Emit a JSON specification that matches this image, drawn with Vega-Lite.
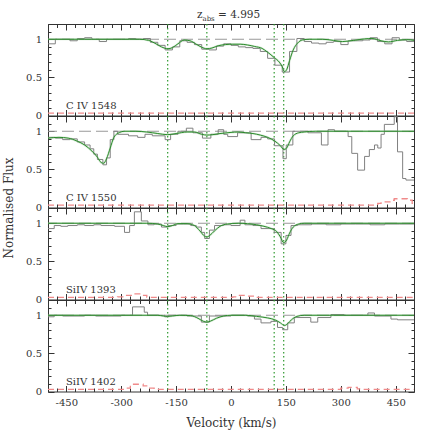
{
"$schema": "https://vega.github.io/schema/vega-lite/v6.json",
"padding": {"left": 2, "top": 9, "right": 5, "bottom": 5},
"spacing": 0,
"bounds": "flush",
"datasets": {
"obs": [
{"p":1,"v":-500,"f":0.94},{"p":1,"v":-480,"f":1.0},{"p":1,"v":-460,"f":1.0},{"p":1,"v":-440,"f":0.98},{"p":1,"v":-420,"f":1.01},{"p":1,"v":-400,"f":1.02},{"p":1,"v":-380,"f":1.0},{"p":1,"v":-360,"f":0.97},{"p":1,"v":-340,"f":1.0},{"p":1,"v":-320,"f":1.0},{"p":1,"v":-300,"f":1.0},{"p":1,"v":-280,"f":1.01},{"p":1,"v":-260,"f":1.0},{"p":1,"v":-240,"f":1.01},{"p":1,"v":-220,"f":0.96},{"p":1,"v":-200,"f":0.92},{"p":1,"v":-180,"f":0.86},{"p":1,"v":-160,"f":0.9},{"p":1,"v":-140,"f":0.98},{"p":1,"v":-120,"f":0.96},{"p":1,"v":-100,"f":0.93},{"p":1,"v":-80,"f":0.87},{"p":1,"v":-60,"f":0.86},{"p":1,"v":-40,"f":0.91},{"p":1,"v":-20,"f":0.94},{"p":1,"v":0,"f":0.92},{"p":1,"v":20,"f":0.9},{"p":1,"v":40,"f":0.89},{"p":1,"v":60,"f":0.88},{"p":1,"v":80,"f":0.84},{"p":1,"v":100,"f":0.75},{"p":1,"v":120,"f":0.66},{"p":1,"v":140,"f":0.57},{"p":1,"v":160,"f":0.84},{"p":1,"v":180,"f":1.01},{"p":1,"v":200,"f":0.97},{"p":1,"v":220,"f":0.95},{"p":1,"v":240,"f":0.94},{"p":1,"v":260,"f":0.96},{"p":1,"v":280,"f":0.97},{"p":1,"v":300,"f":0.93},{"p":1,"v":320,"f":0.98},{"p":1,"v":340,"f":0.98},{"p":1,"v":360,"f":0.99},{"p":1,"v":380,"f":1.02},{"p":1,"v":400,"f":0.97},{"p":1,"v":420,"f":0.94},{"p":1,"v":440,"f":1.02},{"p":1,"v":460,"f":0.99},{"p":1,"v":480,"f":0.97},{"p":1,"v":500,"f":0.97},
{"p":2,"v":-500,"f":0.92},{"p":2,"v":-480,"f":0.91},{"p":2,"v":-460,"f":0.89},{"p":2,"v":-440,"f":0.9},{"p":2,"v":-420,"f":0.86},{"p":2,"v":-400,"f":0.82},{"p":2,"v":-385,"f":0.77},{"p":2,"v":-375,"f":0.7},{"p":2,"v":-365,"f":0.63},{"p":2,"v":-350,"f":0.56},{"p":2,"v":-340,"f":0.65},{"p":2,"v":-330,"f":0.89},{"p":2,"v":-320,"f":1.0},{"p":2,"v":-310,"f":0.96},{"p":2,"v":-280,"f":0.94},{"p":2,"v":-255,"f":0.92},{"p":2,"v":-235,"f":0.96},{"p":2,"v":-215,"f":0.94},{"p":2,"v":-180,"f":0.89},{"p":2,"v":-165,"f":0.96},{"p":2,"v":-145,"f":1.0},{"p":2,"v":-122,"f":1.04},{"p":2,"v":-104,"f":0.98},{"p":2,"v":-78,"f":0.91},{"p":2,"v":-55,"f":0.96},{"p":2,"v":-35,"f":1.02},{"p":2,"v":-20,"f":0.96},{"p":2,"v":-9,"f":0.93},{"p":2,"v":18,"f":0.98},{"p":2,"v":55,"f":0.89},{"p":2,"v":82,"f":0.92},{"p":2,"v":100,"f":0.9},{"p":2,"v":119,"f":0.81},{"p":2,"v":142,"f":0.64},{"p":2,"v":151,"f":0.82},{"p":2,"v":169,"f":1.0},{"p":2,"v":210,"f":0.98},{"p":2,"v":247,"f":0.82},{"p":2,"v":265,"f":1.02},{"p":2,"v":283,"f":1.0},{"p":2,"v":320,"f":0.93},{"p":2,"v":330,"f":0.71},{"p":2,"v":346,"f":0.49},{"p":2,"v":365,"f":0.67},{"p":2,"v":378,"f":0.76},{"p":2,"v":392,"f":0.82},{"p":2,"v":401,"f":0.78},{"p":2,"v":410,"f":0.96},{"p":2,"v":419,"f":1.09},{"p":2,"v":446,"f":1.19},{"p":2,"v":455,"f":0.73},{"p":2,"v":469,"f":0.38},{"p":2,"v":478,"f":0.36},{"p":2,"v":500,"f":0.36},
{"p":3,"v":-500,"f":0.93},{"p":3,"v":-483,"f":0.97},{"p":3,"v":-465,"f":0.96},{"p":3,"v":-446,"f":0.97},{"p":3,"v":-420,"f":0.98},{"p":3,"v":-400,"f":0.97},{"p":3,"v":-375,"f":0.98},{"p":3,"v":-355,"f":0.97},{"p":3,"v":-318,"f":0.96},{"p":3,"v":-291,"f":0.88},{"p":3,"v":-277,"f":0.97},{"p":3,"v":-264,"f":1.15},{"p":3,"v":-245,"f":1.03},{"p":3,"v":-227,"f":0.98},{"p":3,"v":-210,"f":0.99},{"p":3,"v":-190,"f":0.95},{"p":3,"v":-172,"f":0.97},{"p":3,"v":-150,"f":0.99},{"p":3,"v":-130,"f":0.99},{"p":3,"v":-110,"f":0.97},{"p":3,"v":-95,"f":0.95},{"p":3,"v":-81,"f":0.88},{"p":3,"v":-72,"f":0.8},{"p":3,"v":-59,"f":0.91},{"p":3,"v":-45,"f":0.97},{"p":3,"v":-20,"f":0.98},{"p":3,"v":0,"f":0.97},{"p":3,"v":25,"f":1.04},{"p":3,"v":38,"f":0.98},{"p":3,"v":60,"f":0.97},{"p":3,"v":82,"f":0.93},{"p":3,"v":118,"f":0.88},{"p":3,"v":137,"f":0.73},{"p":3,"v":150,"f":0.84},{"p":3,"v":164,"f":0.97},{"p":3,"v":182,"f":0.98},{"p":3,"v":220,"f":0.99},{"p":3,"v":260,"f":0.98},{"p":3,"v":300,"f":0.99},{"p":3,"v":340,"f":0.99},{"p":3,"v":380,"f":0.98},{"p":3,"v":420,"f":0.99},{"p":3,"v":460,"f":0.99},{"p":3,"v":500,"f":0.99},
{"p":4,"v":-500,"f":0.98},{"p":4,"v":-483,"f":1.0},{"p":4,"v":-460,"f":0.99},{"p":4,"v":-440,"f":0.99},{"p":4,"v":-400,"f":1.0},{"p":4,"v":-370,"f":0.99},{"p":4,"v":-350,"f":0.99},{"p":4,"v":-300,"f":1.0},{"p":4,"v":-269,"f":1.11},{"p":4,"v":-237,"f":1.04},{"p":4,"v":-228,"f":1.0},{"p":4,"v":-181,"f":0.98},{"p":4,"v":-172,"f":1.0},{"p":4,"v":-120,"f":0.99},{"p":4,"v":-81,"f":0.91},{"p":4,"v":-59,"f":0.99},{"p":4,"v":0,"f":1.0},{"p":4,"v":45,"f":0.99},{"p":4,"v":64,"f":0.95},{"p":4,"v":82,"f":0.9},{"p":4,"v":109,"f":0.92},{"p":4,"v":127,"f":0.84},{"p":4,"v":141,"f":0.81},{"p":4,"v":155,"f":0.9},{"p":4,"v":173,"f":0.97},{"p":4,"v":218,"f":0.91},{"p":4,"v":237,"f":0.97},{"p":4,"v":273,"f":1.01},{"p":4,"v":309,"f":1.0},{"p":4,"v":374,"f":1.03},{"p":4,"v":392,"f":0.99},{"p":4,"v":437,"f":0.95},{"p":4,"v":455,"f":0.94},{"p":4,"v":500,"f":0.94}
],
"fit": [
{"p":1,"v":-500,"f":1.0},{"p":1,"v":-400,"f":1.0},{"p":1,"v":-300,"f":1.0},{"p":1,"v":-250,"f":1.0},{"p":1,"v":-225,"f":0.985},{"p":1,"v":-205,"f":0.94},{"p":1,"v":-190,"f":0.9},{"p":1,"v":-173,"f":0.875},{"p":1,"v":-160,"f":0.89},{"p":1,"v":-145,"f":0.94},{"p":1,"v":-128,"f":0.99},{"p":1,"v":-112,"f":0.98},{"p":1,"v":-95,"f":0.935},{"p":1,"v":-80,"f":0.895},{"p":1,"v":-66,"f":0.875},{"p":1,"v":-52,"f":0.885},{"p":1,"v":-35,"f":0.915},{"p":1,"v":-15,"f":0.93},{"p":1,"v":5,"f":0.935},{"p":1,"v":25,"f":0.935},{"p":1,"v":45,"f":0.925},{"p":1,"v":65,"f":0.905},{"p":1,"v":85,"f":0.88},{"p":1,"v":100,"f":0.83},{"p":1,"v":118,"f":0.76},{"p":1,"v":132,"f":0.7},{"p":1,"v":140,"f":0.64},{"p":1,"v":146,"f":0.575},{"p":1,"v":152,"f":0.6},{"p":1,"v":160,"f":0.72},{"p":1,"v":170,"f":0.86},{"p":1,"v":182,"f":0.95},{"p":1,"v":195,"f":0.99},{"p":1,"v":215,"f":1.0},{"p":1,"v":250,"f":1.0},{"p":1,"v":280,"f":0.985},{"p":1,"v":305,"f":0.97},{"p":1,"v":335,"f":0.985},{"p":1,"v":365,"f":1.005},{"p":1,"v":385,"f":1.01},{"p":1,"v":410,"f":0.98},{"p":1,"v":430,"f":0.965},{"p":1,"v":455,"f":0.985},{"p":1,"v":480,"f":0.995},{"p":1,"v":500,"f":0.985},
{"p":2,"v":-500,"f":0.91},{"p":2,"v":-470,"f":0.92},{"p":2,"v":-445,"f":0.91},{"p":2,"v":-420,"f":0.87},{"p":2,"v":-400,"f":0.82},{"p":2,"v":-380,"f":0.74},{"p":2,"v":-365,"f":0.66},{"p":2,"v":-355,"f":0.59},{"p":2,"v":-348,"f":0.58},{"p":2,"v":-340,"f":0.64},{"p":2,"v":-330,"f":0.78},{"p":2,"v":-320,"f":0.92},{"p":2,"v":-310,"f":0.97},{"p":2,"v":-290,"f":1.0},{"p":2,"v":-260,"f":1.0},{"p":2,"v":-230,"f":0.99},{"p":2,"v":-200,"f":0.97},{"p":2,"v":-173,"f":0.955},{"p":2,"v":-150,"f":0.97},{"p":2,"v":-120,"f":0.99},{"p":2,"v":-100,"f":0.99},{"p":2,"v":-80,"f":0.96},{"p":2,"v":-66,"f":0.95},{"p":2,"v":-50,"f":0.955},{"p":2,"v":-30,"f":0.97},{"p":2,"v":0,"f":0.985},{"p":2,"v":20,"f":0.99},{"p":2,"v":40,"f":0.98},{"p":2,"v":60,"f":0.97},{"p":2,"v":80,"f":0.95},{"p":2,"v":100,"f":0.92},{"p":2,"v":120,"f":0.87},{"p":2,"v":135,"f":0.81},{"p":2,"v":145,"f":0.76},{"p":2,"v":152,"f":0.78},{"p":2,"v":160,"f":0.86},{"p":2,"v":170,"f":0.94},{"p":2,"v":185,"f":0.98},{"p":2,"v":200,"f":0.99},{"p":2,"v":230,"f":1.0},{"p":2,"v":350,"f":1.0},{"p":2,"v":500,"f":1.0},
{"p":3,"v":-500,"f":1.0},{"p":3,"v":-230,"f":1.0},{"p":3,"v":-200,"f":0.99},{"p":3,"v":-185,"f":0.97},{"p":3,"v":-173,"f":0.955},{"p":3,"v":-160,"f":0.97},{"p":3,"v":-145,"f":0.995},{"p":3,"v":-120,"f":0.995},{"p":3,"v":-100,"f":0.97},{"p":3,"v":-85,"f":0.9},{"p":3,"v":-72,"f":0.83},{"p":3,"v":-66,"f":0.82},{"p":3,"v":-58,"f":0.84},{"p":3,"v":-45,"f":0.9},{"p":3,"v":-30,"f":0.96},{"p":3,"v":-10,"f":0.99},{"p":3,"v":20,"f":1.0},{"p":3,"v":45,"f":0.995},{"p":3,"v":70,"f":0.98},{"p":3,"v":90,"f":0.96},{"p":3,"v":110,"f":0.93},{"p":3,"v":125,"f":0.89},{"p":3,"v":135,"f":0.82},{"p":3,"v":144,"f":0.745},{"p":3,"v":152,"f":0.78},{"p":3,"v":160,"f":0.87},{"p":3,"v":170,"f":0.95},{"p":3,"v":185,"f":0.99},{"p":3,"v":200,"f":1.0},{"p":3,"v":500,"f":1.0},
{"p":4,"v":-500,"f":1.0},{"p":4,"v":-300,"f":1.0},{"p":4,"v":-200,"f":1.0},{"p":4,"v":-185,"f":0.99},{"p":4,"v":-173,"f":0.985},{"p":4,"v":-160,"f":0.99},{"p":4,"v":-140,"f":1.0},{"p":4,"v":-110,"f":0.995},{"p":4,"v":-90,"f":0.96},{"p":4,"v":-75,"f":0.92},{"p":4,"v":-66,"f":0.91},{"p":4,"v":-55,"f":0.925},{"p":4,"v":-40,"f":0.96},{"p":4,"v":-20,"f":0.99},{"p":4,"v":0,"f":1.0},{"p":4,"v":40,"f":1.0},{"p":4,"v":70,"f":0.985},{"p":4,"v":100,"f":0.965},{"p":4,"v":120,"f":0.94},{"p":4,"v":135,"f":0.9},{"p":4,"v":146,"f":0.865},{"p":4,"v":155,"f":0.89},{"p":4,"v":165,"f":0.94},{"p":4,"v":180,"f":0.985},{"p":4,"v":200,"f":1.0},{"p":4,"v":500,"f":1.0}
],
"err": [
{"p":1,"v":-500,"f":0.03},{"p":1,"v":500,"f":0.03},
{"p":2,"v":-500,"f":0.03},{"p":2,"v":392,"f":0.03},{"p":2,"v":401,"f":0.055},{"p":2,"v":410,"f":0.075},{"p":2,"v":437,"f":0.095},{"p":2,"v":446,"f":0.115},{"p":2,"v":482,"f":0.095},{"p":2,"v":495,"f":0.055},{"p":2,"v":500,"f":0.055},
{"p":3,"v":-500,"f":0.028},{"p":3,"v":-310,"f":0.035},{"p":3,"v":-290,"f":0.055},{"p":3,"v":-270,"f":0.075},{"p":3,"v":-245,"f":0.055},{"p":3,"v":-230,"f":0.028},{"p":3,"v":5,"f":0.035},{"p":3,"v":15,"f":0.055},{"p":3,"v":45,"f":0.045},{"p":3,"v":65,"f":0.028},{"p":3,"v":500,"f":0.028},
{"p":4,"v":-500,"f":0.028},{"p":4,"v":-290,"f":0.045},{"p":4,"v":-275,"f":0.095},{"p":4,"v":-240,"f":0.075},{"p":4,"v":-225,"f":0.045},{"p":4,"v":-210,"f":0.028},{"p":4,"v":300,"f":0.045},{"p":4,"v":320,"f":0.055},{"p":4,"v":345,"f":0.035},{"p":4,"v":360,"f":0.028},{"p":4,"v":500,"f":0.028}
],
"comp": [{"v":-173},{"v":-66},{"v":118},{"v":144}],
"lab": [{"p":1,"v":-451,"f":0.087,"t":"C IV 1548"},{"p":2,"v":-451,"f":0.087,"t":"C IV 1550"},{"p":3,"v":-451,"f":0.087,"t":"SiIV 1393"},{"p":4,"v":-451,"f":0.087,"t":"SiIV 1402"}],
"ttl": [{"v":-92.6,"f":1.275,"t":"z"},{"v":-35.5,"f":1.275,"t":"= 4.995"}],
"sub": [{"v":-78,"f":1.24,"t":"abs"}]
},
"vconcat": [
{"width":366,"height":91.5,"layer":[
{"data":{"values":[{}]},"mark":{"type":"rule","color":"#999999","strokeDash":[12,5],"strokeWidth":1},"encoding":{"y":{"datum":1,"type":"quantitative","scale":{"domain":[0,1.2]},"axis":null}}},
{"data":{"name":"comp"},"mark":{"type":"rule","color":"#2f9a2f","strokeDash":[1.5,2.5],"strokeWidth":1.2},"encoding":{"x":{"field":"v","type":"quantitative","scale":{"domain":[-500,500]},"axis":null}}},
{"data":{"name":"obs"},"transform":[{"filter":"datum.p==1"}],"mark":{"type":"line","interpolate":"step-after","color":"#808080","strokeWidth":1},"encoding":{"x":{"field":"v","type":"quantitative","scale":{"domain":[-500,500]},"axis":{"orient":"bottom","values":[-450,-300,-150,0,150,300,450],"tickSize":-6,"labels":false,"title":null}},"y":{"field":"f","type":"quantitative","scale":{"domain":[0,1.2]},"axis":{"orient":"left","values":[0,0.5,1],"tickSize":-6,"labelPadding":12.5,"labelExpr":"datum.value + ''","title":null}}}},
{"data":{"name":"fit"},"transform":[{"filter":"datum.p==1"}],"mark":{"type":"line","interpolate":"monotone","color":"#8cc68c","strokeWidth":2.2,"opacity":0.35},"encoding":{"x":{"field":"v","type":"quantitative","scale":{"domain":[-500,500]},"axis":{"orient":"top","values":[-450,-300,-150,0,150,300,450],"tickSize":-6,"labels":false,"title":null}},"y":{"field":"f","type":"quantitative","scale":{"domain":[0,1.2]},"axis":{"orient":"right","values":[0,0.5,1],"tickSize":-6,"labels":false,"title":null}}}},
{"data":{"name":"fit"},"transform":[{"filter":"datum.p==1"}],"mark":{"type":"line","interpolate":"monotone","color":"#2b8a2b","strokeWidth":1},"encoding":{"x":{"field":"v","type":"quantitative","scale":{"domain":[-500,500]},"axis":{"orient":"bottom","values":[-500,-475,-450,-425,-400,-375,-350,-325,-300,-275,-250,-225,-200,-175,-150,-125,-100,-75,-50,-25,0,25,50,75,100,125,150,175,200,225,250,275,300,325,350,375,400,425,450,475,500],"tickSize":-3.5,"labels":false,"title":null}},"y":{"field":"f","type":"quantitative","scale":{"domain":[0,1.2]},"axis":{"orient":"left","values":[0,0.1,0.2,0.3,0.4,0.5,0.6,0.7,0.8,0.9,1,1.1,1.2],"tickSize":-3,"labels":false,"title":null}}}},
{"data":{"name":"err"},"transform":[{"filter":"datum.p==1"}],"mark":{"type":"line","interpolate":"step-after","color":"#f08a8a","strokeWidth":1.3,"strokeDash":[6,4]},"encoding":{"x":{"field":"v","type":"quantitative","scale":{"domain":[-500,500]},"axis":{"orient":"top","values":[-500,-475,-450,-425,-400,-375,-350,-325,-300,-275,-250,-225,-200,-175,-150,-125,-100,-75,-50,-25,0,25,50,75,100,125,150,175,200,225,250,275,300,325,350,375,400,425,450,475,500],"tickSize":-3.5,"labels":false,"title":null}},"y":{"field":"f","type":"quantitative","scale":{"domain":[0,1.2]},"axis":{"orient":"right","values":[0,0.1,0.2,0.3,0.4,0.5,0.6,0.7,0.8,0.9,1,1.1,1.2],"tickSize":-3,"labels":false,"title":null}}}},
{"data":{"name":"lab"},"transform":[{"filter":"datum.p==1"}],"mark":{"type":"text","align":"left","baseline":"alphabetic","fontSize":10},"encoding":{"x":{"field":"v","type":"quantitative","scale":{"domain":[-500,500]},"axis":null},"y":{"field":"f","type":"quantitative","scale":{"domain":[0,1.2]},"axis":null},"text":{"field":"t"}}},
{"data":{"name":"ttl"},"mark":{"type":"text","align":"left","baseline":"alphabetic","fontSize":10.5},"encoding":{"x":{"field":"v","type":"quantitative","scale":{"domain":[-500,500]},"axis":null},"y":{"field":"f","type":"quantitative","scale":{"domain":[0,1.2]},"axis":null},"text":{"field":"t"}}},
{"data":{"name":"sub"},"mark":{"type":"text","align":"left","baseline":"alphabetic","fontSize":7},"encoding":{"x":{"field":"v","type":"quantitative","scale":{"domain":[-500,500]},"axis":null},"y":{"field":"f","type":"quantitative","scale":{"domain":[0,1.2]},"axis":null},"text":{"field":"t"}}}
],"resolve":{"axis":{"x":"independent","y":"independent"}}},
{"width":366,"height":91.5,"layer":[
{"data":{"values":[{}]},"mark":{"type":"rule","color":"#999999","strokeDash":[12,5],"strokeWidth":1},"encoding":{"y":{"datum":1,"type":"quantitative","scale":{"domain":[0,1.2]},"axis":null}}},
{"data":{"name":"comp"},"mark":{"type":"rule","color":"#2f9a2f","strokeDash":[1.5,2.5],"strokeWidth":1.2},"encoding":{"x":{"field":"v","type":"quantitative","scale":{"domain":[-500,500]},"axis":null}}},
{"data":{"name":"obs"},"transform":[{"filter":"datum.p==2"}],"mark":{"type":"line","interpolate":"step-after","color":"#808080","strokeWidth":1},"encoding":{"x":{"field":"v","type":"quantitative","scale":{"domain":[-500,500]},"axis":{"orient":"bottom","values":[-450,-300,-150,0,150,300,450],"tickSize":-6,"labels":false,"title":null}},"y":{"field":"f","type":"quantitative","scale":{"domain":[0,1.2]},"axis":{"orient":"left","values":[0,0.5,1],"tickSize":-6,"labelPadding":12.5,"labelExpr":"datum.value + ''","title":"Normalised Flux","titleFontSize":12,"titleBaseline":"alphabetic","titleAlign":"center","titleAngle":270,"titleX":-35.5,"titleY":91.5}}}},
{"data":{"name":"fit"},"transform":[{"filter":"datum.p==2"}],"mark":{"type":"line","interpolate":"monotone","color":"#8cc68c","strokeWidth":2.2,"opacity":0.35},"encoding":{"x":{"field":"v","type":"quantitative","scale":{"domain":[-500,500]},"axis":{"orient":"top","values":[-450,-300,-150,0,150,300,450],"tickSize":-6,"labels":false,"title":null}},"y":{"field":"f","type":"quantitative","scale":{"domain":[0,1.2]},"axis":{"orient":"right","values":[0,0.5,1],"tickSize":-6,"labels":false,"title":null}}}},
{"data":{"name":"fit"},"transform":[{"filter":"datum.p==2"}],"mark":{"type":"line","interpolate":"monotone","color":"#2b8a2b","strokeWidth":1},"encoding":{"x":{"field":"v","type":"quantitative","scale":{"domain":[-500,500]},"axis":{"orient":"bottom","values":[-500,-475,-450,-425,-400,-375,-350,-325,-300,-275,-250,-225,-200,-175,-150,-125,-100,-75,-50,-25,0,25,50,75,100,125,150,175,200,225,250,275,300,325,350,375,400,425,450,475,500],"tickSize":-3.5,"labels":false,"title":null}},"y":{"field":"f","type":"quantitative","scale":{"domain":[0,1.2]},"axis":{"orient":"left","values":[0,0.1,0.2,0.3,0.4,0.5,0.6,0.7,0.8,0.9,1,1.1,1.2],"tickSize":-3,"labels":false,"title":null}}}},
{"data":{"name":"err"},"transform":[{"filter":"datum.p==2"}],"mark":{"type":"line","interpolate":"step-after","color":"#f08a8a","strokeWidth":1.3,"strokeDash":[6,4]},"encoding":{"x":{"field":"v","type":"quantitative","scale":{"domain":[-500,500]},"axis":{"orient":"top","values":[-500,-475,-450,-425,-400,-375,-350,-325,-300,-275,-250,-225,-200,-175,-150,-125,-100,-75,-50,-25,0,25,50,75,100,125,150,175,200,225,250,275,300,325,350,375,400,425,450,475,500],"tickSize":-3.5,"labels":false,"title":null}},"y":{"field":"f","type":"quantitative","scale":{"domain":[0,1.2]},"axis":{"orient":"right","values":[0,0.1,0.2,0.3,0.4,0.5,0.6,0.7,0.8,0.9,1,1.1,1.2],"tickSize":-3,"labels":false,"title":null}}}},
{"data":{"name":"lab"},"transform":[{"filter":"datum.p==2"}],"mark":{"type":"text","align":"left","baseline":"alphabetic","fontSize":10},"encoding":{"x":{"field":"v","type":"quantitative","scale":{"domain":[-500,500]},"axis":null},"y":{"field":"f","type":"quantitative","scale":{"domain":[0,1.2]},"axis":null},"text":{"field":"t"}}}
],"resolve":{"axis":{"x":"independent","y":"independent"}}},
{"width":366,"height":91.5,"layer":[
{"data":{"values":[{}]},"mark":{"type":"rule","color":"#999999","strokeDash":[12,5],"strokeWidth":1},"encoding":{"y":{"datum":1,"type":"quantitative","scale":{"domain":[0,1.2]},"axis":null}}},
{"data":{"name":"comp"},"mark":{"type":"rule","color":"#2f9a2f","strokeDash":[1.5,2.5],"strokeWidth":1.2},"encoding":{"x":{"field":"v","type":"quantitative","scale":{"domain":[-500,500]},"axis":null}}},
{"data":{"name":"obs"},"transform":[{"filter":"datum.p==3"}],"mark":{"type":"line","interpolate":"step-after","color":"#808080","strokeWidth":1},"encoding":{"x":{"field":"v","type":"quantitative","scale":{"domain":[-500,500]},"axis":{"orient":"bottom","values":[-450,-300,-150,0,150,300,450],"tickSize":-6,"labels":false,"title":null}},"y":{"field":"f","type":"quantitative","scale":{"domain":[0,1.2]},"axis":{"orient":"left","values":[0,0.5,1],"tickSize":-6,"labelPadding":12.5,"labelExpr":"datum.value + ''","title":null}}}},
{"data":{"name":"fit"},"transform":[{"filter":"datum.p==3"}],"mark":{"type":"line","interpolate":"monotone","color":"#8cc68c","strokeWidth":2.2,"opacity":0.35},"encoding":{"x":{"field":"v","type":"quantitative","scale":{"domain":[-500,500]},"axis":{"orient":"top","values":[-450,-300,-150,0,150,300,450],"tickSize":-6,"labels":false,"title":null}},"y":{"field":"f","type":"quantitative","scale":{"domain":[0,1.2]},"axis":{"orient":"right","values":[0,0.5,1],"tickSize":-6,"labels":false,"title":null}}}},
{"data":{"name":"fit"},"transform":[{"filter":"datum.p==3"}],"mark":{"type":"line","interpolate":"monotone","color":"#2b8a2b","strokeWidth":1},"encoding":{"x":{"field":"v","type":"quantitative","scale":{"domain":[-500,500]},"axis":{"orient":"bottom","values":[-500,-475,-450,-425,-400,-375,-350,-325,-300,-275,-250,-225,-200,-175,-150,-125,-100,-75,-50,-25,0,25,50,75,100,125,150,175,200,225,250,275,300,325,350,375,400,425,450,475,500],"tickSize":-3.5,"labels":false,"title":null}},"y":{"field":"f","type":"quantitative","scale":{"domain":[0,1.2]},"axis":{"orient":"left","values":[0,0.1,0.2,0.3,0.4,0.5,0.6,0.7,0.8,0.9,1,1.1,1.2],"tickSize":-3,"labels":false,"title":null}}}},
{"data":{"name":"err"},"transform":[{"filter":"datum.p==3"}],"mark":{"type":"line","interpolate":"step-after","color":"#f08a8a","strokeWidth":1.3,"strokeDash":[6,4]},"encoding":{"x":{"field":"v","type":"quantitative","scale":{"domain":[-500,500]},"axis":{"orient":"top","values":[-500,-475,-450,-425,-400,-375,-350,-325,-300,-275,-250,-225,-200,-175,-150,-125,-100,-75,-50,-25,0,25,50,75,100,125,150,175,200,225,250,275,300,325,350,375,400,425,450,475,500],"tickSize":-3.5,"labels":false,"title":null}},"y":{"field":"f","type":"quantitative","scale":{"domain":[0,1.2]},"axis":{"orient":"right","values":[0,0.1,0.2,0.3,0.4,0.5,0.6,0.7,0.8,0.9,1,1.1,1.2],"tickSize":-3,"labels":false,"title":null}}}},
{"data":{"name":"lab"},"transform":[{"filter":"datum.p==3"}],"mark":{"type":"text","align":"left","baseline":"alphabetic","fontSize":10},"encoding":{"x":{"field":"v","type":"quantitative","scale":{"domain":[-500,500]},"axis":null},"y":{"field":"f","type":"quantitative","scale":{"domain":[0,1.2]},"axis":null},"text":{"field":"t"}}}
],"resolve":{"axis":{"x":"independent","y":"independent"}}},
{"width":366,"height":91.5,"layer":[
{"data":{"values":[{}]},"mark":{"type":"rule","color":"#999999","strokeDash":[12,5],"strokeWidth":1},"encoding":{"y":{"datum":1,"type":"quantitative","scale":{"domain":[0,1.2]},"axis":null}}},
{"data":{"name":"comp"},"mark":{"type":"rule","color":"#2f9a2f","strokeDash":[1.5,2.5],"strokeWidth":1.2},"encoding":{"x":{"field":"v","type":"quantitative","scale":{"domain":[-500,500]},"axis":null}}},
{"data":{"name":"obs"},"transform":[{"filter":"datum.p==4"}],"mark":{"type":"line","interpolate":"step-after","color":"#808080","strokeWidth":1},"encoding":{"x":{"field":"v","type":"quantitative","scale":{"domain":[-500,500]},"axis":{"orient":"bottom","values":[-450,-300,-150,0,150,300,450],"tickSize":-6,"labelPadding":11.5,"labelExpr":"datum.value + ''","title":"Velocity (km/s)","titleFontSize":12,"titleBaseline":"alphabetic","titleY":35}},"y":{"field":"f","type":"quantitative","scale":{"domain":[0,1.2]},"axis":{"orient":"left","values":[0,0.5,1],"tickSize":-6,"labelPadding":12.5,"labelExpr":"datum.value + ''","title":null}}}},
{"data":{"name":"fit"},"transform":[{"filter":"datum.p==4"}],"mark":{"type":"line","interpolate":"monotone","color":"#8cc68c","strokeWidth":2.2,"opacity":0.35},"encoding":{"x":{"field":"v","type":"quantitative","scale":{"domain":[-500,500]},"axis":{"orient":"top","values":[-450,-300,-150,0,150,300,450],"tickSize":-6,"labels":false,"title":null}},"y":{"field":"f","type":"quantitative","scale":{"domain":[0,1.2]},"axis":{"orient":"right","values":[0,0.5,1],"tickSize":-6,"labels":false,"title":null}}}},
{"data":{"name":"fit"},"transform":[{"filter":"datum.p==4"}],"mark":{"type":"line","interpolate":"monotone","color":"#2b8a2b","strokeWidth":1},"encoding":{"x":{"field":"v","type":"quantitative","scale":{"domain":[-500,500]},"axis":{"orient":"bottom","values":[-500,-475,-450,-425,-400,-375,-350,-325,-300,-275,-250,-225,-200,-175,-150,-125,-100,-75,-50,-25,0,25,50,75,100,125,150,175,200,225,250,275,300,325,350,375,400,425,450,475,500],"tickSize":-3.5,"labels":false,"title":null}},"y":{"field":"f","type":"quantitative","scale":{"domain":[0,1.2]},"axis":{"orient":"left","values":[0,0.1,0.2,0.3,0.4,0.5,0.6,0.7,0.8,0.9,1,1.1,1.2],"tickSize":-3,"labels":false,"title":null}}}},
{"data":{"name":"err"},"transform":[{"filter":"datum.p==4"}],"mark":{"type":"line","interpolate":"step-after","color":"#f08a8a","strokeWidth":1.3,"strokeDash":[6,4]},"encoding":{"x":{"field":"v","type":"quantitative","scale":{"domain":[-500,500]},"axis":{"orient":"top","values":[-500,-475,-450,-425,-400,-375,-350,-325,-300,-275,-250,-225,-200,-175,-150,-125,-100,-75,-50,-25,0,25,50,75,100,125,150,175,200,225,250,275,300,325,350,375,400,425,450,475,500],"tickSize":-3.5,"labels":false,"title":null}},"y":{"field":"f","type":"quantitative","scale":{"domain":[0,1.2]},"axis":{"orient":"right","values":[0,0.1,0.2,0.3,0.4,0.5,0.6,0.7,0.8,0.9,1,1.1,1.2],"tickSize":-3,"labels":false,"title":null}}}},
{"data":{"name":"lab"},"transform":[{"filter":"datum.p==4"}],"mark":{"type":"text","align":"left","baseline":"alphabetic","fontSize":10},"encoding":{"x":{"field":"v","type":"quantitative","scale":{"domain":[-500,500]},"axis":null},"y":{"field":"f","type":"quantitative","scale":{"domain":[0,1.2]},"axis":null},"text":{"field":"t"}}}
],"resolve":{"axis":{"x":"independent","y":"independent"}}}
],
"config": {
"view": {"stroke": "#333333", "strokeWidth": 1},
"text": {"font": "DejaVu Serif", "color": "#333333"},
"axis": {"grid": false, "domain": false, "tickColor": "#333333", "tickWidth": 1, "labelFont": "DejaVu Serif", "labelFontSize": 10, "labelColor": "#333333", "labelFlush": false, "labelOverlap": false, "titleFont": "DejaVu Serif", "titleFontWeight": "normal", "titleColor": "#333333"}
}
}
